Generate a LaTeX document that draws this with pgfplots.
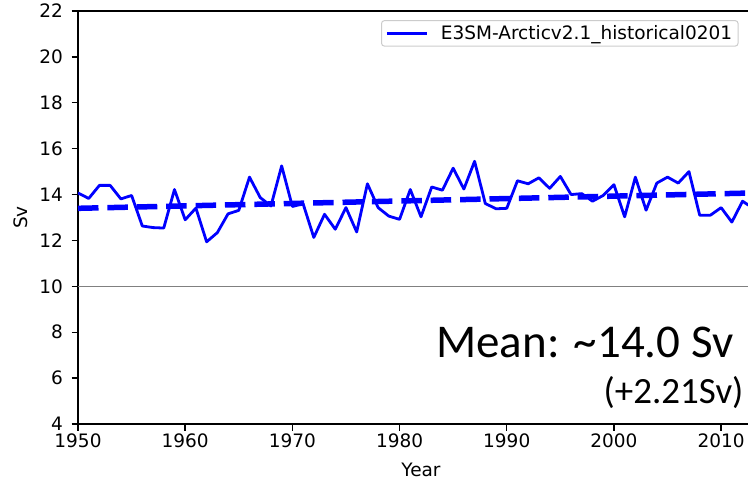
\documentclass[border=0pt]{standalone}
\usepackage{pgfplots}
\usepackage{pgfplotstable}
\pgfplotsset{compat=1.18}
\usepackage{fontspec}
\setmainfont{DejaVu Sans}
\newfontfamily\carlito{Carlito}

% Annual transport (Sv), E3SM-Arcticv2.1 historical member 0201
\pgfplotstableread{
year sv
1950 14.07
1951 13.83
1952 14.40
1953 14.40
1954 13.81
1955 13.96
1956 12.63
1957 12.56
1958 12.54
1959 14.22
1960 12.90
1961 13.41
1962 11.94
1963 12.34
1964 13.16
1965 13.31
1966 14.76
1967 13.87
1968 13.50
1969 15.25
1970 13.48
1971 13.60
1972 12.13
1973 13.14
1974 12.49
1975 13.43
1976 12.37
1977 14.47
1978 13.43
1979 13.06
1980 12.92
1981 14.22
1982 13.03
1983 14.33
1984 14.19
1985 15.15
1986 14.24
1987 15.45
1988 13.61
1989 13.38
1990 13.40
1991 14.60
1992 14.47
1993 14.73
1994 14.27
1995 14.79
1996 14.00
1997 14.04
1998 13.71
1999 13.96
2000 14.43
2001 13.03
2002 14.76
2003 13.32
2004 14.50
2005 14.76
2006 14.50
2007 15.00
2008 13.10
2009 13.10
2010 13.43
2011 12.80
2012 13.71
2013 13.40
2014 13.60
}\transport

\definecolor{mplgray}{RGB}{128,128,128}
\definecolor{legframe}{RGB}{204,204,204}

% long legend handle with a gap before the text
\pgfplotsset{longhandle/.style={legend image code/.code={%
  \draw[##1] (0pt,0pt) -- (40pt,0pt);
  \path[draw=none, fill=none] (0pt,0pt) -- (52pt,0pt);}}}

\begin{document}
\begin{tikzpicture}[x=1pt,y=1pt]
\path[use as bounding box] (0,0) rectangle (748,480);
\clip (0,0) rectangle (748,480);
\begin{axis}[
  at={(78pt,56pt)}, anchor=south west,
  scale only axis, width=686pt, height=413pt,
  xmin=1950, xmax=2014, ymin=4, ymax=22,
  xtick={1950,1960,...,2010}, ytick={4,6,...,22},
  tick pos=left, tick align=outside,
  major tick length=6.5pt,
  every tick/.style={black, line width=1.4pt},
  axis line style={black, line width=1.4pt},
  /pgf/number format/assume math mode=true,
  /pgf/number format/1000 sep={},
  ticklabel style={font=\fontsize{18.5}{22}\selectfont},
  yticklabel style={xshift=-5pt},
  label style={font=\fontsize{18.5}{22}\selectfont},
  xlabel={Year}, ylabel={Sv},
  xlabel style={yshift=-8pt},
  ylabel style={yshift=5pt},
  legend style={at={(0.4417,0.978)}, anchor=north west,
    draw=legframe, line width=1pt, rounded corners=3pt,
    fill=white, inner xsep=4pt, inner ysep=3pt,
    font=\fontsize{18.5}{22}\selectfont},
  legend cell align=left,
]
\addplot[mplgray, line width=1.5pt, forget plot] coordinates {(1950,10) (2014,10)};
\addplot[blue, line width=2.8pt, line join=round, longhandle]
  table[x=year, y=sv] {\transport};
\addlegendentry{E3SM-Arcticv2.1\_historical0201}
\addplot[blue, line width=5.5pt, dash pattern=on 20.5pt off 8.9pt, forget plot]
  coordinates {(1950,13.40) (2014,14.08)};
\end{axis}
\node[anchor=base east, font=\carlito\fontsize{47}{52}\selectfont] at (737,122) {Mean: \textasciitilde 14.0 Sv};
\node[anchor=base east, font=\carlito\fontsize{37}{40}\selectfont] at (747,77) {(+2.21Sv)};
\end{tikzpicture}
\end{document}
